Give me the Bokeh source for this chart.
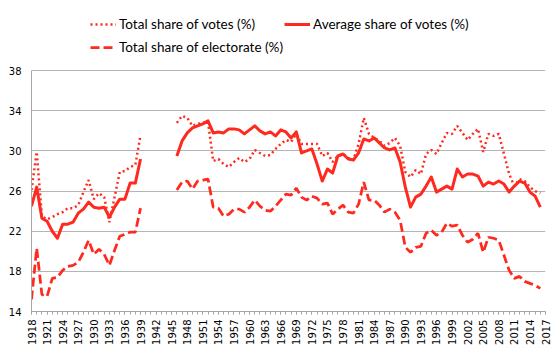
import math
from bokeh.plotting import figure
from bokeh.models import Range1d, FixedTicker, Legend, LegendItem, ColumnDataSource
from bokeh.embed import file_html
from bokeh.resources import INLINE

# ---- data ----
years_prewar = list(range(1918, 1940))
years_postwar = list(range(1946, 2017))

total_votes_prewar = [26.1, 29.9, 23.5, 23.2, 23.4, 23.7, 23.9, 24.3, 24.3, 24.6,
                      25.9, 27.1, 25.2, 25.8, 25.4, 22.9, 25.4, 27.9, 28.0, 28.4,
                      28.6, 31.6]
avg_votes_prewar = [24.5, 26.4, 23.3, 23.0, 22.0, 21.3, 22.7, 22.7, 22.9, 23.8,
                    24.2, 24.9, 24.4, 24.3, 24.4, 23.4, 24.4, 25.2, 25.2, 26.8,
                    26.8, 29.2]
electorate_prewar = [15.2, 20.3, 15.7, 15.5, 17.3, 17.4, 18.1, 18.5, 18.6, 18.9,
                     19.9, 21.1, 19.7, 20.2, 19.7, 18.6, 20.1, 21.5, 21.7, 21.9,
                     21.9, 24.3]

total_votes_postwar = [32.8, 33.5, 33.3, 32.5, 32.7, 32.8, 32.9, 29.0, 29.2, 28.7, 28.4, 28.9, 29.3, 28.9,
                       29.2, 30.1, 29.8, 29.5, 29.6, 30.2, 30.7, 31.1, 30.9, 31.7,
                       30.7, 30.7, 30.7, 30.7, 29.5, 29.8, 28.9, 29.5, 29.7, 29.3,
                       29.1, 30.7, 33.3, 31.7, 31.3, 31.0, 30.5, 30.8, 31.3, 30.5,
                       27.9, 27.4, 28.1, 27.7, 29.7, 30.1, 29.7, 30.8, 31.8, 31.7,
                       32.5, 31.8, 31.1, 31.7, 32.2, 29.9, 31.7, 31.5, 31.7, 29.7,
                       27.7, 26.5, 27.2, 27.0, 26.4, 26.0, 25.8]
avg_votes_postwar = [29.5, 31.0, 31.8, 32.3, 32.5, 32.7, 33.0, 31.8, 31.9, 31.8, 32.2, 32.2, 32.1, 31.7,
                     32.1, 32.5, 32.0, 31.7, 31.9, 31.5, 32.1, 31.9, 31.3, 31.9,
                     29.8, 30.0, 30.2, 28.7, 27.0, 28.2, 27.8, 29.5, 29.7, 29.2,
                     29.1, 29.8, 31.2, 31.0, 31.3, 30.8, 30.3, 30.1, 30.3, 28.9,
                     26.4, 24.4, 25.4, 25.7, 26.5, 27.4, 25.9, 26.2, 26.5, 26.2,
                     28.2, 27.4, 27.7, 27.7, 27.5, 26.5, 26.9, 26.7, 27.0, 26.7,
                     25.9, 26.5, 27.0, 26.8, 25.9, 25.5, 24.4]
electorate_postwar = [26.1, 26.9, 27.0, 26.2, 27.0, 27.1, 27.2, 24.4, 24.3, 23.5, 23.7, 24.2, 24.2, 23.9,
                      24.4, 25.1, 24.5, 24.1, 24.0, 24.5, 25.1, 25.7, 25.6, 26.3,
                      25.4, 25.1, 25.5, 25.3, 24.7, 24.8, 23.7, 24.2, 24.6, 23.9,
                      23.8, 24.7, 26.9, 25.1, 25.1, 24.6, 23.9, 24.2, 23.9, 23.1,
                      20.4, 19.9, 20.4, 20.5, 21.8, 22.1, 21.6, 21.9, 22.8, 22.5,
                      22.6, 21.6, 20.9, 21.2, 21.8, 19.9, 21.4, 21.3, 21.1, 19.6,
                      18.1, 17.3, 17.5, 17.0, 16.8, 16.6, 16.3]

y_ticks = [14, 18, 22, 26, 30, 34, 38]
x_label_years = list(range(1918, 2018, 3))
x_minor_years = list(range(1918, 2018))

series_names = ["Total share of votes (%)", "Average share of votes (%)",
                "Total share of electorate (%)"]

# combine with a gap (NaN) for the war years
nan = float("nan")
years = years_prewar + [1942] + years_postwar
total_votes = total_votes_prewar + [nan] + total_votes_postwar
avg_votes = avg_votes_prewar + [nan] + avg_votes_postwar
electorate = electorate_prewar + [nan] + electorate_postwar

src = ColumnDataSource(dict(year=years, total=total_votes, avg=avg_votes, elec=electorate))

RED = "#FF2A1F"
GRID = "#B5B5B5"
AXIS = "#A6A6A6"

# frame extends above the top tick (38) to leave room for the legend inside it
p = figure(width=559, height=351, output_backend="svg", toolbar_location=None,
           x_range=Range1d(1918, 2017), y_range=Range1d(14, 44),
           min_border_left=31, min_border_right=14, min_border_top=10, min_border_bottom=40)
p.outline_line_color = None
p.background_fill_color = "white"
p.border_fill_color = "white"

r_total = p.line("year", "total", source=src, line_color=RED, line_width=2.5,
                 line_dash="2 3")
r_avg = p.line("year", "avg", source=src, line_color=RED, line_width=3,
               line_join="round")
r_elec = p.line("year", "elec", source=src, line_color=RED, line_width=2.75,
                line_dash="9 4")

# axes
p.xaxis.ticker = FixedTicker(ticks=x_label_years, minor_ticks=x_minor_years)
p.xaxis.major_label_orientation = math.pi / 2
p.xaxis.major_label_text_font = "DejaVu Sans"
p.xaxis.major_label_text_font_size = "10px"
p.xaxis.major_label_text_color = "black"
p.xaxis.major_tick_in = 0
p.xaxis.major_tick_out = 3
p.xaxis.minor_tick_in = 0
p.xaxis.minor_tick_out = 3
p.xaxis.major_label_standoff = 5
p.xaxis.axis_line_color = AXIS
p.xaxis.major_tick_line_color = AXIS
p.xaxis.minor_tick_line_color = AXIS

p.yaxis.ticker = FixedTicker(ticks=y_ticks)
p.yaxis.bounds = (y_ticks[0], y_ticks[-1])
p.yaxis.major_label_text_font = "DejaVu Sans"
p.yaxis.major_label_text_font_size = "10px"
p.yaxis.major_label_text_color = "black"
p.yaxis.major_tick_in = 0
p.yaxis.major_tick_out = 0
p.yaxis.minor_tick_line_color = None
p.yaxis.major_label_standoff = 10
p.yaxis.axis_line_color = AXIS

p.xgrid.visible = False
p.ygrid.ticker = FixedTicker(ticks=y_ticks)
p.ygrid.grid_line_color = GRID
p.ygrid.grid_line_width = 1

def make_legend(items, loc, spacing=0):
    lg = Legend(items=items, location=loc, orientation="horizontal",
                background_fill_alpha=0, border_line_color=None,
                padding=0, margin=0, spacing=spacing,
                glyph_width=26, glyph_height=14, label_height=14,
                label_standoff=3, label_text_font="Lato",
                label_text_font_size="13.5px", label_text_color="black")
    return lg

leg1 = make_legend([LegendItem(label=series_names[0], renderers=[r_total]),
                    LegendItem(label=series_names[1], renderers=[r_avg])],
                   (59, 279), spacing=29)
leg2 = make_legend([LegendItem(label=series_names[2], renderers=[r_elec])],
                   (59, 256))
p.add_layout(leg1, "center")
p.add_layout(leg2, "center")

open("out.html", "w").write(file_html(p, INLINE))
